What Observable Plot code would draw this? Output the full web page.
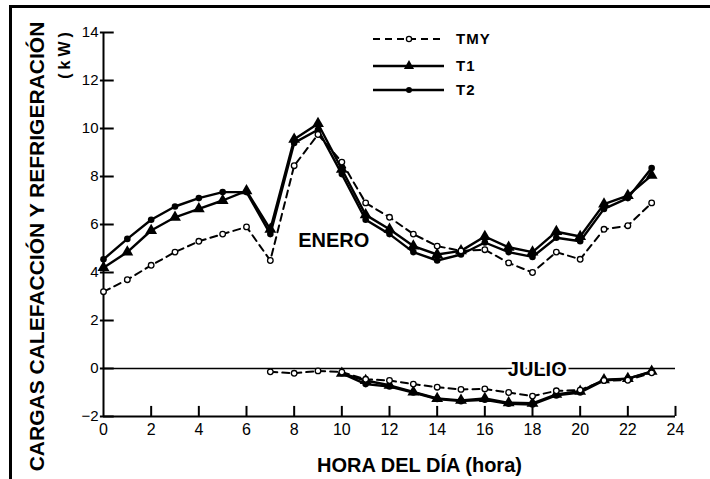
<!DOCTYPE html>
<html>
<head>
<meta charset="utf-8">
<script src="https://cdn.jsdelivr.net/npm/d3@7"></script>
<script src="https://cdn.jsdelivr.net/npm/@observablehq/plot@0.6"></script>
<style>
  html, body { margin: 0; padding: 0; background: #fff; }
  #wrap { width: 710px; height: 479px; overflow: hidden; background: #fff; }
  #wrap svg { display: block; }
</style>
</head>
<body>
<div id="wrap"></div>
<script>
// ---- data ----
const hours = [0,1,2,3,4,5,6,7,8,9,10,11,12,13,14,15,16,17,18,19,20,21,22,23];
const tmyEnero = [3.2, 3.7, 4.3, 4.85, 5.3, 5.6, 5.9, 4.5, 8.45, 9.75, 8.6, 6.9, 6.3, 5.6, 5.1, 4.9, 4.95, 4.4, 4.0, 4.85, 4.55, 5.8, 5.95, 6.9];
const t1Enero  = [4.2, 4.85, 5.75, 6.3, 6.65, 7.0, 7.4, 5.8, 9.55, 10.2, 8.3, 6.4, 5.8, 5.1, 4.75, 4.9, 5.5, 5.05, 4.85, 5.7, 5.5, 6.85, 7.2, 8.05];
const t2Enero  = [4.55, 5.4, 6.2, 6.75, 7.1, 7.35, 7.35, 5.6, 9.4, 9.95, 8.1, 6.2, 5.6, 4.85, 4.5, 4.75, 5.25, 4.85, 4.65, 5.45, 5.3, 6.65, 7.1, 8.35];

const hoursJulioTMY = [7,8,9,10,11,12,13,14,15,16,17,18,19,20,21,22,23];
const tmyJulio = [-0.14, -0.2, -0.1, -0.15, -0.45, -0.5, -0.65, -0.78, -0.87, -0.85, -1.0, -1.15, -0.93, -0.9, -0.5, -0.49, -0.18];
const hoursJulioT = [10,11,12,13,14,15,16,17,18,19,20,21,22,23];
const t1Julio = [-0.2, -0.5, -0.7, -0.98, -1.25, -1.33, -1.25, -1.43, -1.45, -1.08, -0.95, -0.47, -0.42, -0.12];
const t2Julio = [-0.2, -0.65, -0.75, -1.0, -1.27, -1.36, -1.3, -1.47, -1.5, -1.12, -1.0, -0.5, -0.42, -0.14];

const seriesNames = ["TMY", "T1", "T2"];
const xTicks = [0,2,4,6,8,10,12,14,16,18,20,22,24];
const yTicks = [-2,0,2,4,6,8,10,12,14];
const monthLabels = [
  {label: "ENERO", hour: 9.66, value: 5.33},
  {label: "JULIO", hour: 18.2, value: -0.03}
];
const yTitle = "CARGAS CALEFACCIÓN Y REFRIGERACIÓN";
const yUnit = "(kW)";
const xTitle = "HORA DEL DÍA (hora)";

// ---- tables ----
const toRows = (xs, ys) => xs.map((h, i) => ({hour: h, value: ys[i]}));
const eTMY = toRows(hours, tmyEnero), eT1 = toRows(hours, t1Enero), eT2 = toRows(hours, t2Enero);
const jTMY = toRows(hoursJulioTMY, tmyJulio), jT1 = toRows(hoursJulioT, t1Julio), jT2 = toRows(hoursJulioT, t2Julio);

const FONT = "'Liberation Sans', Arial, Helvetica, sans-serif";
const solid = {x: "hour", y: "value", stroke: "black", strokeWidth: 2.4};
const dashed = {x: "hour", y: "value", stroke: "black", strokeWidth: 2, strokeDasharray: "7,5"};
const tri = {x: "hour", y: "value", symbol: "triangle", r: 4.4, fill: "black"};
const dotF = {x: "hour", y: "value", r: 3.3, fill: "black"};
const dotO = {x: "hour", y: "value", r: 2.8, fill: "white", stroke: "black", strokeWidth: 1.3};

const chart = Plot.plot({
  width: 710, height: 479,
  marginLeft: 103, marginRight: 35, marginTop: 32, marginBottom: 63,
  style: {fontFamily: FONT, background: "white", color: "black"},
  x: {domain: [0, 24]},
  y: {domain: [-2, 14]},
  marks: [
    Plot.ruleY([0], {stroke: "black", strokeWidth: 1.6}),
    Plot.ruleX([0], {stroke: "black", strokeWidth: 2}),
    Plot.ruleY([-2], {stroke: "black", strokeWidth: 2}),
    Plot.ruleY(yTicks, {y: d => d, x1: -0.13, x2: 0.45, stroke: "black", strokeWidth: 2}),
    Plot.ruleX(xTicks.slice(1), {x: d => d, y1: -2, y2: -1.58, stroke: "black", strokeWidth: 2}),
    Plot.axisX({ticks: xTicks, tickSize: 0, tickPadding: 7, fontSize: 16, label: null}),
    Plot.axisY({ticks: yTicks, tickSize: 0, tickPadding: 5, fontSize: 15, label: null}),
    // Enero
    Plot.line(eT1, solid),
    Plot.line(eT2, solid),
    Plot.line(eTMY, dashed),
    Plot.dot(eT1, tri),
    Plot.dot(eT2, dotF),
    Plot.dot(eTMY, dotO),
    // Julio
    Plot.line(jT1, solid),
    Plot.line(jT2, solid),
    Plot.line(jTMY, dashed),
    Plot.dot(jT1, tri),
    Plot.dot(jT2, dotF),
    Plot.dot(jTMY, dotO),
    // month labels
    Plot.text(monthLabels, {x: "hour", y: "value", text: "label", fontSize: 20, fontWeight: "bold",
      fill: "black", stroke: "white", strokeWidth: 5, paintOrder: "stroke"}),
    // axis titles
    Plot.text([yTitle], {frameAnchor: "left", textAnchor: "middle", lineAnchor: "middle", rotate: -90,
      dx: -66, dy: 22, fontSize: 21, fontWeight: "bold", fill: "black"}),
    Plot.text([yUnit], {frameAnchor: "top-left", textAnchor: "middle", lineAnchor: "middle", rotate: -90,
      dx: -39, dy: 21, fontSize: 16, fontWeight: "bold", fill: "black", className: "yunit"}),
    Plot.text([xTitle], {frameAnchor: "bottom", textAnchor: "middle", lineAnchor: "middle",
      dx: 30, dy: 49, fontSize: 20, fontWeight: "bold", fill: "black"})
  ]
});

// ---- border + legend ----
const svg = d3.select(chart);
svg.selectAll("text").filter(function() { return this.textContent === yUnit; })
  .attr("letter-spacing", "4px");
svg.append("path").attr("d", "M10.5,479V6.5H710").attr("fill", "none")
  .attr("stroke", "black").attr("stroke-width", 3);
const lg = svg.append("g").attr("font-family", FONT);
const legendRows = [
  {name: seriesNames[0], y: 39, dash: "7,5", sym: "openCircle"},
  {name: seriesNames[1], y: 66, dash: null, sym: "triangle"},
  {name: seriesNames[2], y: 90, dash: null, sym: "dot"}
];
legendRows.forEach(r => {
  lg.append("line").attr("x1", 373).attr("x2", 444).attr("y1", r.y).attr("y2", r.y)
    .attr("stroke", "black").attr("stroke-width", r.dash ? 2 : 2.4)
    .attr("stroke-dasharray", r.dash);
  if (r.sym === "openCircle") {
    lg.append("circle").attr("cx", 409).attr("cy", r.y).attr("r", 2.6)
      .attr("fill", "white").attr("stroke", "black").attr("stroke-width", 1.3);
  } else if (r.sym === "dot") {
    lg.append("circle").attr("cx", 409).attr("cy", r.y).attr("r", 3).attr("fill", "black");
  } else {
    lg.append("path").attr("transform", `translate(409,${r.y})`)
      .attr("d", d3.symbol(d3.symbolTriangle, 45)()).attr("fill", "black");
  }
  lg.append("text").attr("x", 456).attr("y", r.y).attr("dy", "0.35em")
    .attr("text-anchor", "start")
    .attr("font-size", 15).attr("font-weight", "bold").attr("letter-spacing", "1px")
    .attr("fill", "black").text(r.name);
});

document.getElementById("wrap").appendChild(chart);
</script>
</body>
</html>
